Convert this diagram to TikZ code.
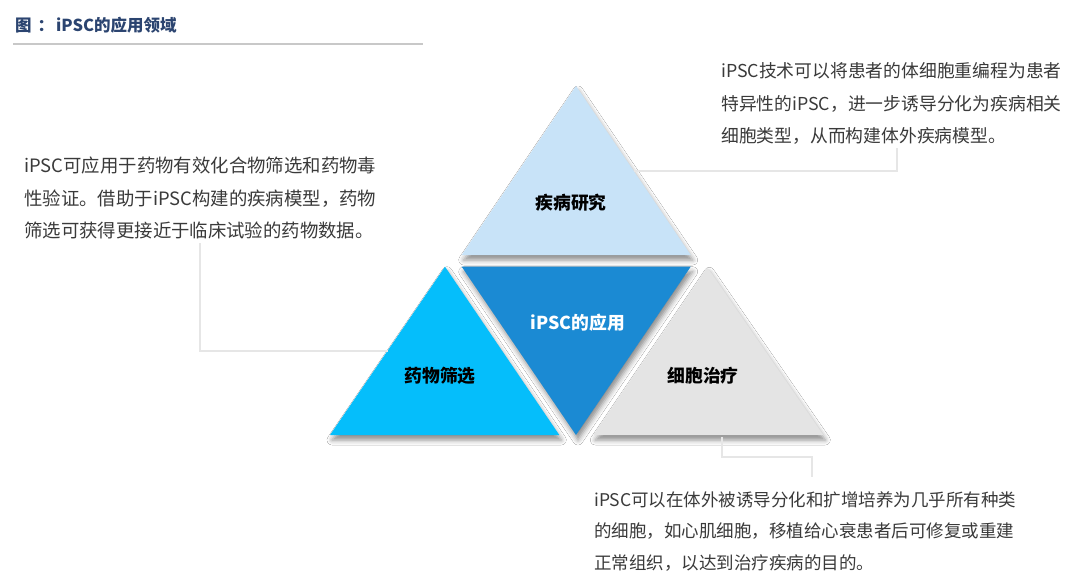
\documentclass[tikz,border=0pt]{standalone}
\usepackage{fontspec}
\setmainfont{Noto Sans CJK SC}
\usetikzlibrary{shadows.blur}
\definecolor{titlec}{HTML}{2B4470}
\definecolor{rulec}{HTML}{C8C8C8}
\definecolor{linkc}{HTML}{E6E6E6}
\definecolor{bodyc}{HTML}{3A3A3A}
\definecolor{topc}{HTML}{C8E3F8}
\definecolor{midc}{HTML}{1B8AD3}
\definecolor{leftc}{HTML}{05BEFB}
\definecolor{rightc}{HTML}{E4E4E4}
\tikzset{
  tri/.style={blur shadow={shadow xshift=2pt, shadow yshift=-5pt, shadow blur radius=5pt, shadow opacity=45}},
  label/.style={inner sep=0pt, font=\fontsize{17.8}{20}\selectfont\bfseries, text=black},
  body/.style={inner sep=0pt, anchor=north west, align=left, text=bodyc},
  link/.style={draw=linkc, line width=2pt},
}
\begin{document}
\begin{tikzpicture}[x=1pt,y=-1pt]
\useasboundingbox[fill=white] (0,0) rectangle (1080,582);
% title
\node[inner sep=0pt, anchor=west, text=titlec, font=\fontsize{16.5}{18}\selectfont\bfseries] (title) at (15,25) {图\hspace{6pt}：\hspace{2pt}iPSC的应用领域};
\coordinate (r1) at (13,44);
\coordinate (r2) at (423,44);
\draw[draw=rulec, line width=1.6pt] (r1) -- (r2);

% triangles
\coordinate (tA) at (576,86);
\coordinate (tL) at (461.7,255);
\coordinate (tR) at (690.7,255);
\fill[topc, tri] (tA) -- (tL) -- (tR) -- cycle;

\coordinate (mL) at (461.7,266.7);
\coordinate (mR) at (690.7,266.7);
\coordinate (mB) at (576,435);
\fill[midc, tri] (mL) -- (mR) -- (mB) -- cycle;

\coordinate (lA) at (445,266.7);
\coordinate (lL) at (330,435);
\coordinate (lR) at (559.3,435);
\fill[leftc, tri] (lA) -- (lL) -- (lR) -- cycle;

\coordinate (gA) at (707.3,267.3);
\coordinate (gL) at (593.3,435);
\coordinate (gR) at (823.3,435);
\fill[rightc, tri] (gA) -- (gL) -- (gR) -- cycle;

% labels
\node[label] (disease) at (571,203) {疾病研究};
\node[label, text=white] (center) at (578,323) {iPSC的应用};
\node[label] (drug) at (440,376) {药物筛选};
\node[label] (cell) at (703,376) {细胞治疗};

% text blocks
\node[body, font=\fontsize{17.8}{32.3}\selectfont] (tdisease) at (721,62.5) {iPSC技术可以将患者的体细胞重编程为患者\\特异性的iPSC，进一步诱导分化为疾病相关\\细胞类型，从而构建体外疾病模型。};
\node[body, font=\fontsize{18.4}{32.3}\selectfont] (tdrug) at (24,157) {iPSC可应用于药物有效化合物筛选和药物毒\\性验证。借助于iPSC构建的疾病模型，药物\\筛选可获得更接近于临床试验的药物数据。};
\node[body, font=\fontsize{17.5}{31.5}\selectfont] (tcell) at (594,491) {iPSC可以在体外被诱导分化和扩增培养为几乎所有种类\\的细胞，如心肌细胞，移植给心衰患者后可修复或重建\\正常组织，以达到治疗疾病的目的。};

% connectors
\coordinate (c1a) at (634,170.7);
\coordinate (c1b) at (897,170.7);
\coordinate (c1c) at (897,148);
\draw[link] (c1a) -- (c1b) -- (c1c);

\coordinate (c2a) at (200,243);
\coordinate (c2b) at (200,350.7);
\coordinate (c2c) at (387.5,350.7);
\draw[link] (c2a) -- (c2b) -- (c2c);

\coordinate (c3a) at (721.7,437);
\coordinate (c3b) at (721.7,457);
\coordinate (c3c) at (812.3,457);
\coordinate (c3d) at (812.3,477);
\draw[link] (c3a) -- (c3b) -- (c3c) -- (c3d);
\end{tikzpicture}
\end{document}
